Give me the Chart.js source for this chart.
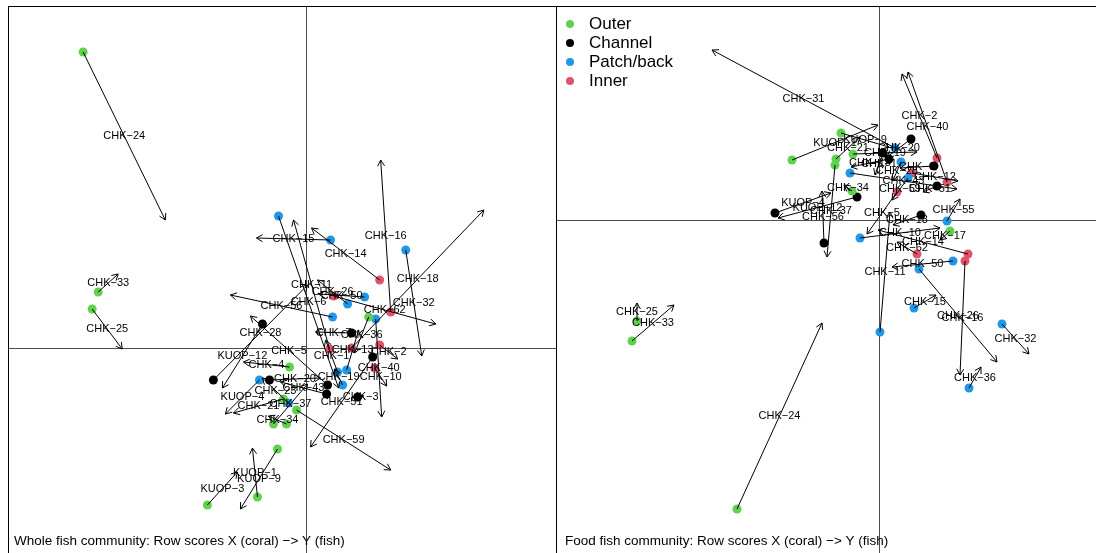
<!DOCTYPE html>
<html>
<head>
<meta charset="utf-8">
<script src="https://cdn.jsdelivr.net/npm/chart.js@4/dist/chart.umd.min.js"></script>
<style>
  html, body { margin: 0; padding: 0; width: 1096px; height: 553px; overflow: hidden; background: #fff; }
  #wrap { position: relative; width: 1096px; height: 553px; overflow: hidden; }
  canvas { position: absolute; top: 0; }
  #whole { left: 0; }
  #food { left: 556px; }
</style>
</head>
<body>
<div id="wrap">
  <canvas id="whole" width="558" height="570"></canvas>
  <canvas id="food" width="560" height="570"></canvas>
</div>
<script>
// Habitat groups and their colours
const habitats = ['Outer', 'Channel', 'Patch/back', 'Inner'];
const habitatColors = ['#61D04F', '#000000', '#2297E6', '#DF536B'];

// ---- Whole fish community: coral row scores (X) and fish row scores (Y) ----
const sitesWhole = ['CHK-24','CHK-33','CHK-25','CHK-15','CHK-14','CHK-16','CHK-18','CHK-32','CHK-6','CHK-26',
  'CHK-50','CHK-62','CHK-11','CHK-56','CHK-28','CHK-36','KUOP-4','CHK-4','CHK-5','CHK-20',
  'CHK-59','KUOP-9','KUOP-1','KUOP-3','CHK-51','KUOP-12','CHK-1','CHK-13','CHK-2','CHK-40',
  'CHK-10','CHK-19','CHK-43','CHK-21','CHK-37','CHK-34','CHK-3','CHK-23','CHK-7'];
const habitatWhole = ['Outer','Outer','Outer','Patch/back','Inner','Inner','Inner','Patch/back','Patch/back','Patch/back',
  'Patch/back','Inner','Inner','Patch/back','Channel','Outer','Patch/back','Outer','Channel','Channel',
  'Outer','Outer','Outer','Outer','Channel','Channel','Patch/back','Patch/back','Inner','Patch/back',
  'Inner','Patch/back','Channel','Outer','Outer','Outer','Channel','Patch/back','Channel'];
const coralXWhole = [-2.22,-2.07,-2.13,0.25,0.74,0.85,0.46,1.00,-0.27,0.42,
  0.59,0.28,0.24,0.27,-0.92,0.63,-0.46,-0.16,0.22,-0.36,
  -0.09,-0.28,-0.48,-0.98,0.67,-0.43,0.32,0.41,0.74,0.70,
  0.69,0.37,0.21,-0.22,-0.32,-0.19,0.52,-0.17,0.46];
const coralYWhole = [2.96,0.56,0.39,1.08,0.68,0.36,0.00,0.98,1.32,0.44,
  0.51,0.52,-0.01,0.31,-0.32,0.31,-0.32,-0.19,-0.37,-0.32,
  -0.62,-1.01,-1.49,-1.57,-0.09,0.24,-0.24,-0.22,0.03,0.29,
  -0.20,-0.37,-0.46,-0.51,-0.76,-0.76,-0.49,-0.55,0.15];
const fishXWhole = [-1.40,-1.87,-1.83,-0.49,0.06,0.75,1.78,1.16,0.33,0.12,
  0.13,1.30,-0.12,-0.75,0.02,0.49,-0.80,-0.62,-0.55,0.15,
  0.85,-0.65,-0.53,-0.68,0.05,-0.83,0.20,0.53,0.92,0.76,
  0.81,0.29,-0.25,-0.72,0.02,-0.37,0.58,-0.43,0.10];
const fishYWhole = [1.28,0.74,-0.01,1.10,1.20,1.88,1.38,-0.08,-0.40,0.68,
  0.54,0.24,1.28,0.53,0.63,-0.05,-0.66,-0.14,0.32,-0.30,
  -1.22,-1.61,-1.00,-1.24,-0.99,-0.40,0.08,0.18,-0.11,-0.69,
  -0.38,-0.21,-0.34,-0.65,-0.36,-0.68,-0.48,-0.30,0.16];

// ---- Food fish community: coral row scores (X) and fish row scores (Y) ----
const sitesFood = ['CHK-24','CHK-33','CHK-25','CHK-15','CHK-14','CHK-16','CHK-18','CHK-32','CHK-6','CHK-26',
  'CHK-50','CHK-62','CHK-11','CHK-56','CHK-28','CHK-36','KUOP-4','CHK-43','CHK-5','CHK-20',
  'CHK-59','KUOP-9','KUOP-1','KUOP-12','CHK-51','CHK-1','CHK-13','CHK-2','CHK-40','CHK-10',
  'CHK-19','CHK-21','CHK-37','CHK-34','CHK-12','CHK-31','CHK-55','CHK-17'];
const habitatFood = ['Outer','Outer','Outer','Patch/back','Inner','Inner','Channel','Patch/back','Channel','Patch/back',
  'Patch/back','Inner','Patch/back','Channel','Patch/back','Patch/back','Channel','Patch/back','Inner','Channel',
  'Patch/back','Outer','Outer','Channel','Channel','Channel','Channel','Inner','Inner','Patch/back',
  'Outer','Outer','Outer','Outer','Inner','Patch/back','Patch/back','Outer'];
const coralXFood = [-1.42,-2.47,-2.42,0.35,0.89,0.86,0.42,1.23,0.55,0.40,
  0.74,0.38,0.01,-0.55,0.22,0.90,-1.04,-0.29,0.18,0.32,
  0.29,-0.38,-0.87,-0.22,0.58,0.04,0.10,0.58,0.68,-0.19,
  -0.26,-0.43,-0.44,-0.27,0.33,0.16,0.68,0.71];
const coralYFood = [-2.89,-1.21,-1.01,-0.88,-0.34,-0.41,0.05,-1.04,0.54,-0.49,
  -0.41,-0.34,-1.12,-0.23,0.58,-1.68,0.07,0.47,0.28,0.81,
  0.42,0.87,0.60,0.23,0.34,0.67,0.61,0.62,0.38,-0.18,
  0.66,0.61,0.55,0.29,0.47,0.72,-0.01,-0.11];
const fishXFood = [-0.57,-2.05,-2.42,0.57,-0.01,0.81,0.14,1.50,0.21,1.18,
  0.13,0.18,0.11,-0.57,0.14,1.02,-0.48,0.78,-0.12,0.08,
  0.13,0.10,-0.01,-1.01,0.44,-0.04,-0.28,0.23,0.29,0.61,
  0.38,-0.19,-0.52,-0.35,0.79,-1.67,0.81,0.61];
const fishYFood = [-1.03,-0.85,-0.83,-0.75,-0.10,-1.55,-0.05,-1.34,0.52,-1.42,
  -0.47,-0.22,0.08,0.29,0.40,-1.47,0.27,0.31,-0.14,0.63,
  0.20,0.73,0.95,0.02,0.28,0.45,0.53,1.46,1.48,-0.08,
  0.68,0.83,-0.37,0.35,0.39,1.70,0.21,-0.20];

const labelFont = '11px "Liberation Sans", Arial, Helvetica, sans-serif';
const titleFont = '13.5px "Liberation Sans", Arial, Helvetica, sans-serif';
const legendFont = '17px "Liberation Sans", Arial, Helvetica, sans-serif';

function drawArrow(ctx, x0, y0, x1, y1) {
  const ang = Math.atan2(y1 - y0, x1 - x0);
  const len = 7, spread = Math.PI / 6;
  ctx.beginPath();
  ctx.moveTo(x0, y0);
  ctx.lineTo(x1, y1);
  ctx.moveTo(x1 - len * Math.cos(ang - spread), y1 - len * Math.sin(ang - spread));
  ctx.lineTo(x1, y1);
  ctx.lineTo(x1 - len * Math.cos(ang + spread), y1 - len * Math.sin(ang + spread));
  ctx.stroke();
}

// Zero lines, arrows X -> Y, site labels, frame, caption and legend
const procrustesPlugin = {
  id: 'procrustes',
  beforeDatasetsDraw(chart) {
    const { ctx, chartArea: a, scales: { x, y } } = chart;
    ctx.save();
    ctx.strokeStyle = '#4d4d4d';
    ctx.lineWidth = 1;
    const zx = Math.round(x.getPixelForValue(0)) + 0.5;
    const zy = Math.round(y.getPixelForValue(0)) + 0.5;
    ctx.beginPath();
    ctx.moveTo(zx, a.top); ctx.lineTo(zx, a.bottom);
    ctx.moveTo(a.left, zy); ctx.lineTo(a.right, zy);
    ctx.stroke();
    ctx.restore();
  },
  afterDatasetsDraw(chart) {
    const o = chart.options.plugins.procrustes;
    const { ctx, chartArea: a, scales: { x, y } } = chart;
    ctx.save();
    ctx.beginPath();
    ctx.rect(a.left, a.top, a.right - a.left, a.bottom - a.top);
    ctx.clip();
    ctx.strokeStyle = '#000';
    ctx.lineWidth = 1;
    for (let i = 0; i < o.sites.length; i++) {
      drawArrow(ctx,
        x.getPixelForValue(o.cx[i]), y.getPixelForValue(o.cy[i]),
        x.getPixelForValue(o.fx[i]), y.getPixelForValue(o.fy[i]));
    }
    ctx.fillStyle = '#000';
    ctx.font = labelFont;
    ctx.textAlign = 'center';
    ctx.textBaseline = 'middle';
    for (let i = 0; i < o.sites.length; i++) {
      const mx = x.getPixelForValue((o.cx[i] + o.fx[i]) / 2);
      const my = y.getPixelForValue((o.cy[i] + o.fy[i]) / 2);
      ctx.fillText(o.sites[i].replace('-', '\u2212'), mx, my);
    }
    ctx.restore();

    ctx.save();
    ctx.strokeStyle = '#000';
    ctx.lineWidth = 1;
    ctx.strokeRect(a.left + 0.5, a.top + 0.5, a.right - a.left - 1, a.bottom - a.top);
    ctx.fillStyle = '#000';
    ctx.font = titleFont;
    ctx.textAlign = 'left';
    ctx.textBaseline = 'middle';
    ctx.fillText(o.title, a.left + o.titleInset, 541);
    if (o.legend) {
      ctx.font = legendFont;
      habitats.forEach((h, i) => {
        const cyPix = a.top + 18 + i * 19;
        ctx.fillStyle = habitatColors[i];
        ctx.beginPath();
        ctx.arc(a.left + 14, cyPix, 4, 0, Math.PI * 2);
        ctx.fill();
        ctx.fillStyle = '#000';
        ctx.fillText(h, a.left + 33, cyPix);
      });
    }
    ctx.restore();
  }
};

function makeChart(id, sites, habitat, cx, cy, fx, fy, xr, yr, pad, title, titleInset, legend) {
  const datasets = habitats.map((h, k) => ({
    label: h,
    data: sites.map((s, i) => habitat[i] === h ? { x: cx[i], y: cy[i] } : null).filter(p => p),
    backgroundColor: habitatColors[k],
    borderWidth: 0,
    pointRadius: 4.5,
    pointHoverRadius: 4.5
  }));
  return new Chart(document.getElementById(id), {
    type: 'scatter',
    data: { datasets },
    options: {
      responsive: false,
      devicePixelRatio: 1,
      animation: false,
      layout: { padding: pad, autoPadding: false },
      scales: {
        x: { type: 'linear', min: xr[0], max: xr[1], display: false },
        y: { type: 'linear', min: yr[0], max: yr[1], display: false }
      },
      plugins: {
        legend: { display: false },
        tooltip: { enabled: false },
        procrustes: { sites, cx, cy, fx, fy, title, titleInset, legend }
      }
    },
    plugins: [procrustesPlugin]
  });
}

makeChart('whole', sitesWhole, habitatWhole, coralXWhole, coralYWhole, fishXWhole, fishYWhole,
  [-2.97, 2.51], [-2.22, 3.42], { left: 8, top: 6, right: 1, bottom: 0 },
  'Whole fish community: Row scores X (coral) \u2212> Y (fish)', 6, false);
makeChart('food', sitesFood, habitatFood, coralXFood, coralYFood, fishXFood, fishYFood,
  [-3.23, 2.37], [-3.50, 2.14], { left: 0, top: 6, right: 0, bottom: 0 },
  'Food fish community: Row scores X (coral) \u2212> Y (fish)', 9, true);
</script>
</body>
</html>
